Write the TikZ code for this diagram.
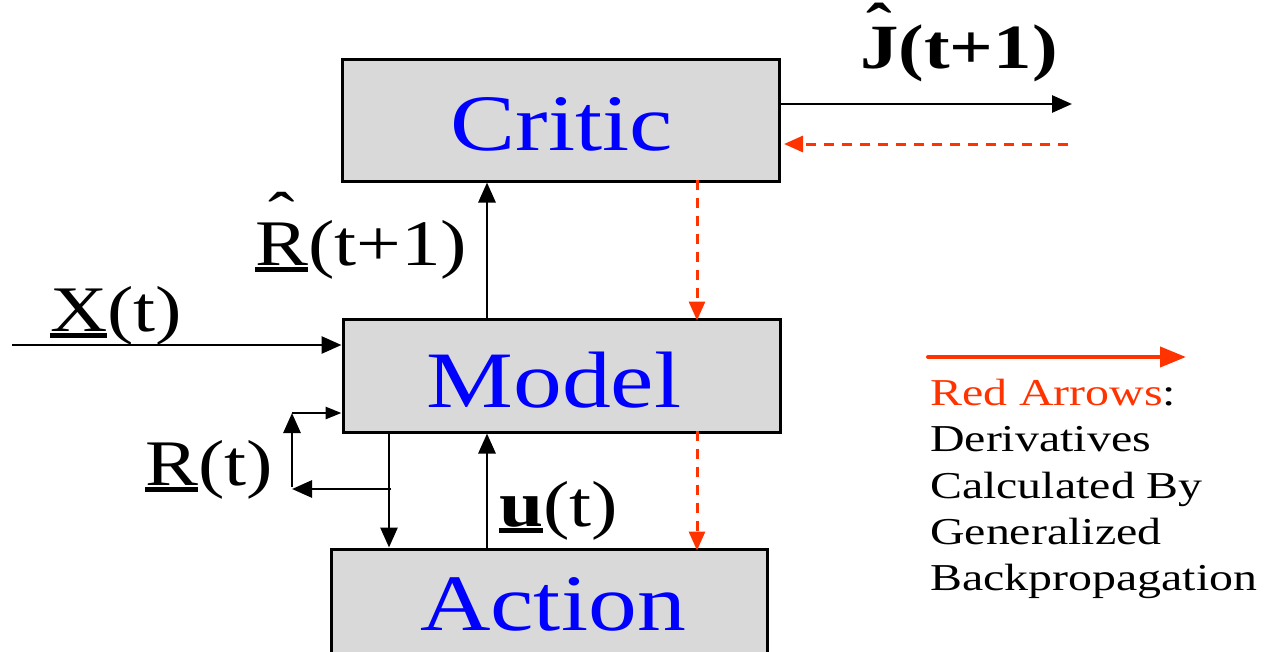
\documentclass[tikz,border=0pt]{standalone}
\usepackage{fontspec}
\setmainfont[FakeStretch=1.22]{Liberation Serif}
\newfontfamily\legfont[FakeStretch=1.26]{Liberation Serif}
\usetikzlibrary{arrows.meta}
\definecolor{boxgray}{RGB}{217,217,217}
\definecolor{myred}{RGB}{255,51,0}
\definecolor{myblue}{RGB}{0,0,255}
\newcommand\myul[1]{\setbox2\hbox{#1}\rlap{\rule[-7pt]{\wd2}{5pt}}\box2}
\newcommand\myhat[2]{\setbox0\hbox{#1}\rlap{\hbox to\wd0{\hss\raisebox{#2}{\char"02C6}\hss}}\box0}
\tikzset{
  blk/.style={draw=black, line width=3pt, fill=boxgray, inner sep=0pt},
  boxtxt/.style={text=myblue, font=\fontsize{80}{96}\selectfont, anchor=base, inner sep=0pt},
  lbl/.style={inner sep=0pt, anchor=base west, font=\fontsize{65}{78}\selectfont},
  conn/.style={line width=2.8pt, -{Triangle[length=20pt,width=17pt]}},
  smallconn/.style={line width=2.8pt, -{Triangle[length=16pt,width=12pt]}},
  redd/.style={draw=myred, line width=3pt, dash pattern=on 10pt off 8pt, -{Triangle[length=19pt,width=16pt]}},
  legline/.style={inner sep=0pt, anchor=base west, font=\legfont\fontsize{38}{46}\selectfont}
}
\begin{document}
\begin{tikzpicture}[x=1pt,y=-1pt]
\useasboundingbox (0,0) rectangle (1267,651);
% boxes
\node[blk, minimum width=437pt, minimum height=122pt] (critic) at (561,120) {};
\node[blk, minimum width=437pt, minimum height=113pt] (model) at (561.5,375.5) {};
\node[blk, minimum width=436pt, minimum height=160pt] (action) at (549,629) {};
\node[boxtxt] (criticT) at (562,150) {Critic};
\node[boxtxt] (modelT) at (554,407) {Model};
\node[boxtxt] (actionT) at (553,630) {Action};
% coordinates
\coordinate (xA) at (487,0);
\coordinate (xB) at (389,0);
\coordinate (xR) at (697,0);
\coordinate (jout) at (1072,104);
\coordinate (rin) at (1068,144);
\coordinate (xin) at (12,345);
\coordinate (split) at (389,489);
\coordinate (loopL) at (292,489);
\coordinate (loopT) at (292,413);
% connectors
\draw[conn] (critic.east |- jout) -- (jout);
\draw[redd] (rin) -- ([xshift=3pt]critic.east |- rin);
\draw[conn] (model.north -| xA) -- (critic.south -| xA);
\draw[redd] ([yshift=3pt]critic.south -| xR) -- ([yshift=-3pt]model.north -| xR);
\draw[conn] (xin) -- (model.west |- xin);
\draw[conn] (model.south -| xB) -- (action.north -| xB);
\draw[conn] (action.north -| xA) -- (model.south -| xA);
\draw[redd] ([yshift=3pt]model.south -| xR) -- ([yshift=-3pt]action.north -| xR);
\draw[conn] ([xshift=2pt]split) -- (loopL);
\draw[conn] ([yshift=2pt]loopL) -- (loopT);
\draw[smallconn] (loopT) -- (model.west |- loopT);
% labels
\node[lbl, font=\fontsize{63}{76}\selectfont\bfseries] (jlab) at (860,68) {\myhat{J}{21pt}(t+1)};
\node[lbl] (rhatlab) at (255,265) {\myul{\myhat{R}{28pt}}(t+1)};
\node[lbl] (xlab) at (50,331) {\myul{X}(t)};
\node[lbl] (rlab) at (145,485) {\myul{R}(t)};
\node[lbl] (ulab) at (499,526) {\myul{\textbf{u}}(t)};
% legend
\coordinate (lgA) at (928,357);
\coordinate (lgB) at (1186,357);
\draw[myred, line width=4pt, line cap=round, -{Triangle[length=26pt,width=20pt]}] (lgA) -- (lgB);
\node[legline] (lg1) at (930,405) {\textcolor{myred}{Red Arrows}:};
\node[legline] (lg2) at (930,451) {Derivatives};
\node[legline] (lg3) at (930,498) {Calculated By};
\node[legline] (lg4) at (930,544) {Generalized};
\node[legline] (lg5) at (930,590) {Backpropagation};
\end{tikzpicture}
\end{document}
